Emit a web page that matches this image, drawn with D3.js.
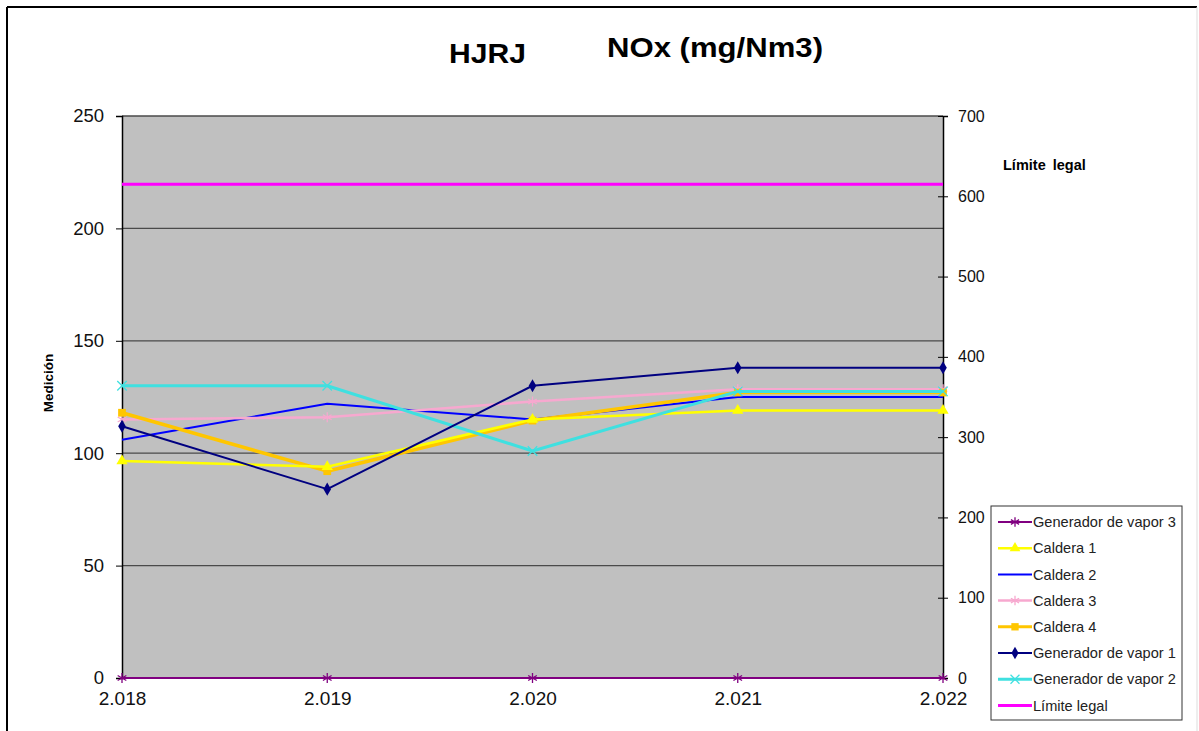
<!DOCTYPE html>
<head>
  <meta charset="utf-8">
  <style>
    body { margin: 0; background: #fff; }
    text { font-family: "Liberation Sans", Arial, sans-serif; }
    .grid line { stroke: #4a4a4a; stroke-width: 1.3; }
  </style>
  <script src="https://d3js.org/d3.v7.min.js"></script>
</head>
<body>
  <div id="content"></div>
  <script>
  // chart values
  var years = ["2.018", "2.019", "2.020", "2.021", "2.022"];
  var leftTicks = [0, 50, 100, 150, 200, 250];
  var rightTicks = [0, 100, 200, 300, 400, 500, 600, 700];

  var generador3 = [0, 0, 0, 0, 0];
  var caldera1 = [96.5, 94, 115, 119, 119];
  var caldera2 = [106, 122, 115, 125, 125];
  var caldera3 = [115, 116, 123, 128.5, 128.5];
  var caldera4 = [118, 92, 114.5, 127, 127];
  var generador1 = [112, 84, 130, 138, 138];
  var generador2 = [130, 130, 101, 127.5, 127.5];
  var limiteLegal = [615, 615, 615, 615, 615];

  var seriesNames = ["Generador de vapor 3", "Caldera 1", "Caldera 2", "Caldera 3",
                     "Caldera 4", "Generador de vapor 1", "Generador de vapor 2", "Límite legal"];

  // style per series (kept apart from the values)
  var series = [
    {name: seriesNames[0], values: generador3, color: "#800080", width: 2, symbol: "asterisk", axis: "L"},
    {name: seriesNames[1], values: caldera1, color: "#ffff00", width: 2.5, symbol: "triangle", axis: "L"},
    {name: seriesNames[2], values: caldera2, color: "#0000ff", width: 2, symbol: null, axis: "L"},
    {name: seriesNames[3], values: caldera3, color: "#f7a8cf", width: 2.5, symbol: "asterisk", axis: "L"},
    {name: seriesNames[4], values: caldera4, color: "#ffc600", width: 3.5, symbol: "square", axis: "L"},
    {name: seriesNames[5], values: generador1, color: "#000080", width: 2, symbol: "diamond", axis: "L"},
    {name: seriesNames[6], values: generador2, color: "#3fe0e0", width: 3, symbol: "x", axis: "L"},
    {name: seriesNames[7], values: limiteLegal, color: "#ff00ff", width: 3, symbol: null, axis: "R"}
  ];

  var W = 1199, H = 731;
  var plot = {left: 122, right: 943, top: 116, bottom: 678};

  var svg = d3.select("#content").append("svg")
      .attr("width", W)
      .attr("height", H);

  // outer frame
  svg.append("line").attr("x1", 7).attr("x2", 1197).attr("y1", 7).attr("y2", 7)
    .attr("stroke", "#000").attr("stroke-width", 2);
  svg.append("line").attr("x1", 7).attr("x2", 7).attr("y1", 7).attr("y2", H)
    .attr("stroke", "#000").attr("stroke-width", 2);
  svg.append("line").attr("x1", 1197).attr("x2", 1197).attr("y1", 7).attr("y2", H)
    .attr("stroke", "#ddd").attr("stroke-width", 1);

  var x = d3.scalePoint().domain(years).range([plot.left, plot.right]).padding(0);
  var yL = d3.scaleLinear().domain([0, 250]).range([plot.bottom, plot.top]);
  var yR = d3.scaleLinear().domain([0, 700]).range([plot.bottom, plot.top]);

  // plot area
  svg.append("rect")
    .attr("x", plot.left).attr("y", plot.top)
    .attr("width", plot.right - plot.left).attr("height", plot.bottom - plot.top)
    .attr("fill", "#c0c0c0");

  // gridlines
  svg.append("g").attr("class", "grid")
    .selectAll("line")
    .data(leftTicks.filter(function(d) { return d > 0; }))
    .enter().append("line")
      .attr("x1", plot.left).attr("x2", plot.right)
      .attr("y1", function(d) { return yL(d); })
      .attr("y2", function(d) { return yL(d); });

  // left axis
  var gL = svg.append("g")
    .attr("transform", "translate(" + plot.left + ",0)")
    .call(d3.axisLeft(yL).tickValues(leftTicks).tickSize(6).tickPadding(12));
  gL.select(".domain").attr("stroke", "#000").attr("stroke-width", 1.5);
  gL.selectAll(".tick line").attr("stroke", "#000");
  gL.selectAll(".tick text").style("font-size", "18.5px").attr("fill", "#111");

  // right axis
  var gR = svg.append("g")
    .attr("transform", "translate(" + plot.right + ",0)")
    .call(d3.axisRight(yR).tickValues(rightTicks).tickSize(5).tickPadding(10));
  gR.select(".domain").attr("stroke", "#000").attr("stroke-width", 1.5);
  gR.selectAll(".tick line").attr("stroke", "#000").attr("x1", -5);
  gR.selectAll(".tick text").style("font-size", "16px").attr("fill", "#111");

  // bottom axis
  var gB = svg.append("g")
    .attr("transform", "translate(0," + plot.bottom + ")")
    .call(d3.axisBottom(x).tickSize(0).tickPadding(14));
  gB.select(".domain").attr("stroke", "#000");
  gB.selectAll(".tick text").style("font-size", "19px").attr("fill", "#111");

  // symbols
  function symbolFor(name) {
    if (name === "asterisk") return d3.symbolAsterisk;
    if (name === "triangle") return d3.symbolTriangle;
    if (name === "square") return d3.symbolSquare;
    if (name === "diamond") return d3.symbolDiamond;
    if (name === "x") return d3.symbolTimes;
    return null;
  }
  var symbolSize = {asterisk: 70, triangle: 55, square: 60, diamond: 50, x: 60};
  var strokeSymbols = {asterisk: true, x: true};

  function drawMarker(g, s, cx, cy, scale) {
    var sym = symbolFor(s.symbol);
    if (!sym) return;
    var p = g.append("path")
      .attr("d", d3.symbol().type(sym).size(symbolSize[s.symbol] * (scale || 1))())
      .attr("transform", "translate(" + cx + "," + cy + ")");
    if (strokeSymbols[s.symbol]) {
      p.attr("fill", "none").attr("stroke", s.color).attr("stroke-width", 1.3);
    } else {
      p.attr("fill", s.color);
    }
  }

  var drawOrder = [2, 3, 4, 1, 6, 5, 0, 7];
  drawOrder.forEach(function(i) {
    var s = series[i];
    var yy = s.axis === "R" ? yR : yL;
    var line = d3.line()
      .x(function(d, j) { return x(years[j]); })
      .y(function(d) { return yy(d); });
    var g = svg.append("g");
    g.append("path")
      .datum(s.values)
      .attr("d", line)
      .attr("fill", "none")
      .attr("stroke", s.color)
      .attr("stroke-width", s.width)
      .attr("stroke-linejoin", "round");
    s.values.forEach(function(v, j) {
      drawMarker(g, s, x(years[j]), yy(v));
    });
  });

  // titles
  svg.append("text")
    .attr("x", 449).attr("y", 63)
    .attr("textLength", 77).attr("lengthAdjust", "spacingAndGlyphs")
    .style("font-size", "28px").style("font-weight", "bold")
    .text("HJRJ");
  svg.append("text")
    .attr("x", 607).attr("y", 57)
    .attr("textLength", 216).attr("lengthAdjust", "spacingAndGlyphs")
    .style("font-size", "28px").style("font-weight", "bold")
    .text("NOx (mg/Nm3)");

  svg.append("text")
    .attr("transform", "translate(53,383) rotate(-90)")
    .attr("text-anchor", "middle")
    .style("font-size", "13.5px").style("font-weight", "bold")
    .text("Medición");

  svg.append("text")
    .attr("x", 1003).attr("y", 170)
    .style("font-size", "14.5px").style("font-weight", "bold")
    .style("word-spacing", "3px")
    .text("Límite legal");

  // legend
  var legend = svg.append("g");
  legend.append("rect")
    .attr("x", 991).attr("y", 506).attr("width", 191).attr("height", 214)
    .attr("fill", "#fff").attr("stroke", "#333").attr("stroke-width", 1);
  series.forEach(function(s, i) {
    var cy = 522 + i * 26.2;
    var item = legend.append("g");
    item.append("line")
      .attr("x1", 998).attr("x2", 1032).attr("y1", cy).attr("y2", cy)
      .attr("stroke", s.color).attr("stroke-width", Math.min(s.width, 3));
    drawMarker(item, s, 1015, cy, 0.9);
    item.append("text")
      .attr("x", 1033).attr("y", cy).attr("dy", "0.35em")
      .style("font-size", "14.6px").attr("fill", "#222")
      .text(s.name);
  });
  </script>
</body>
</html>
